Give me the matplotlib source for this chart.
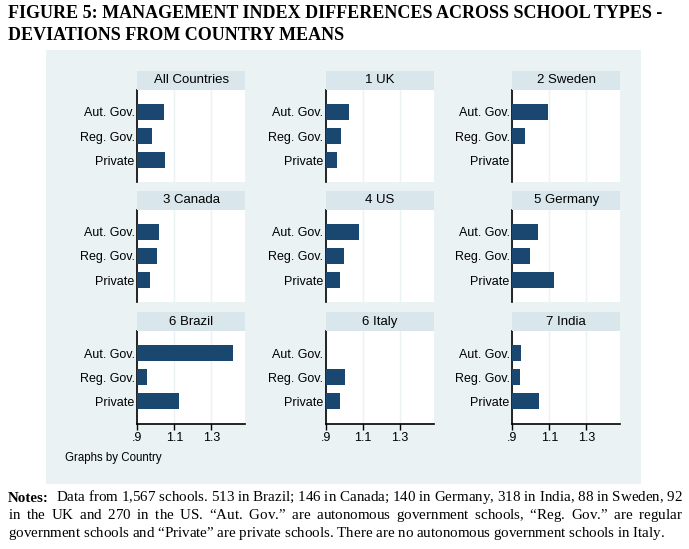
import numpy as np
import matplotlib
matplotlib.use("Agg")
import matplotlib.pyplot as plt
from matplotlib.patches import Rectangle

# ---------------- data ----------------
categories = ["Aut. Gov.", "Reg. Gov.", "Private"]
panel_titles = ["All Countries", "1 UK", "2 Sweden",
                "3 Canada", "4 US", "5 Germany",
                "6 Brazil", "6 Italy", "7 India"]
aut_gov = [1.044, 1.026, 1.093, 1.017, 1.080, 1.039, 1.417, np.nan, 0.947]
reg_gov = [0.979, 0.983, 0.969, 1.006, 0.999, 0.996, 0.952, 1.006, 0.942]
private = [1.050, 0.961, np.nan, 0.969, 0.977, 1.125, 1.125, 0.977, 1.044]
x_ticks = [0.9, 1.1, 1.3]
x_tick_labels = [".9", "1.1", "1.3"]

title_lines = ["FIGURE 5: MANAGEMENT INDEX DIFFERENCES ACROSS SCHOOL TYPES -",
               "DEVIATIONS FROM COUNTRY MEANS"]
notes_label = "Notes:"
notes_lines = [
    "Data from 1,567 schools. 513 in Brazil; 146 in Canada; 140 in Germany, 318 in India, 88 in Sweden, 92",
    "in the UK and 270 in the US. \u201cAut. Gov.\u201d are autonomous government schools, \u201cReg. Gov.\u201d are regular",
    "government schools and \u201cPrivate\u201d are private schools. There are no autonomous government schools in Italy.",
]

# ---------------- style ----------------
W, H = 689, 549
BAR = "#1A476F"
OUTER = "#EAF2F3"
STRIP = "#D9E6EB"
GRID = "#EAF2F3"
SANS = "Liberation Sans"
SERIF = "Liberation Serif"
plt.rcParams["mathtext.fontset"] = "custom"
plt.rcParams["mathtext.rm"] = "Liberation Serif"
plt.rcParams["mathtext.it"] = "Liberation Serif:italic"
plt.rcParams["mathtext.bf"] = "Liberation Serif:bold"

fig = plt.figure(figsize=(W / 100, H / 100), dpi=100)
fig.patch.set_facecolor("white")

def fx(px):
    return px / W

def fy(py):
    return 1 - py / H

# outer graph region
fig.patches.append(Rectangle((fx(46), fy(484)), fx(641) - fx(46), fy(50) - fy(484),
                             transform=fig.transFigure, facecolor=OUTER,
                             edgecolor="none", zorder=-5))

col_left = [137.3, 325.7, 512.3]
row_top = [89.7, 209.7, 331.0]
pw, ph, sh = 108.0, 92.6, 18.6
xmin, xmax = 0.9, 1.484

for i, t in enumerate(panel_titles):
    r, c = divmod(i, 3)
    L, T = col_left[c], row_top[r]
    ax = fig.add_axes([fx(L), fy(T + ph), pw / W, ph / H])
    vals = [aut_gov[i], reg_gov[i], private[i]]
    ypos = np.arange(len(categories))
    v = np.array(vals, dtype=float)
    ax.barh(ypos, v - xmin, left=xmin, height=0.67, color=BAR, zorder=3)
    ax.set_xlim(xmin, xmax)
    ax.set_ylim(2.92, -0.92)
    ax.set_facecolor("white")
    for s in ["top", "right"]:
        ax.spines[s].set_visible(False)
    ax.spines["left"].set_color("black")
    ax.spines["left"].set_linewidth(1.2)
    ax.set_yticks(ypos)
    ax.set_yticklabels(categories, fontsize=9, family=SANS)
    ax.tick_params(axis="y", length=0, pad=2)
    ax.set_xticks(x_ticks)
    ax.grid(axis="x", color=GRID, linewidth=1.0, zorder=0)
    ax.set_axisbelow(True)
    if r == 2:
        ax.spines["bottom"].set_color("black")
        ax.spines["bottom"].set_linewidth(1.2)
        ax.set_xticklabels(x_tick_labels, fontsize=9, family=SANS)
        ax.tick_params(axis="x", length=4, width=1, pad=2, color="black")
    else:
        ax.spines["bottom"].set_visible(False)
        ax.tick_params(axis="x", length=0, labelbottom=False)
    # strip
    sax = fig.add_axes([fx(L), fy(T), pw / W, sh / H])
    sax.set_facecolor(STRIP)
    sax.set_xticks([]); sax.set_yticks([])
    for s in sax.spines.values():
        s.set_visible(False)
    sax.text(0.5, 0.5, t, ha="center", va="center", fontsize=9.5, family=SANS,
             transform=sax.transAxes)

fig.text(fx(65), fy(458), "Graphs by Country", fontsize=8.3, family=SANS,
         ha="left", va="center")

# title
fig.text(fx(8), fy(14), title_lines[0], fontsize=13, family=SERIF,
         weight="bold", ha="left", va="center")
fig.text(fx(8), fy(35), title_lines[1], fontsize=13, family=SERIF,
         weight="bold", ha="left", va="center")

# notes, justified via mathtext spacing in a single text object per line
renderer = fig.canvas.get_renderer()
NFS = 10.8

def width_of(s, weight="normal"):
    t = fig.text(0, 0, s, fontsize=NFS, family=SERIF, weight=weight)
    w = t.get_window_extent(renderer).width
    t.remove()
    return w

em_px = (width_of(r"A$\hspace{10}$A") - width_of(r"A$\hspace{0}$A")) / 10.0

def justified(x0, x1, y, text):
    words = text.split(" ")
    base = r"$\hspace{0}$".join(words)
    w0 = width_of(base)
    g = (x1 - x0 - w0) / ((len(words) - 1) * em_px)
    s = (r"$\hspace{%.4f}$" % g).join(words)
    fig.text(fx(x0), fy(y), s, fontsize=NFS, family=SERIF,
             ha="left", va="baseline")

nl = fig.text(fx(8), fy(501.5), notes_label, fontsize=NFS, family=SERIF,
              weight="bold", ha="left", va="baseline")
nl_w = nl.get_window_extent(renderer).width
justified(8 + nl_w + 7, 683, 501.5, notes_lines[0])
justified(8, 683, 519.5, notes_lines[1])
justified(8, 665, 537.5, notes_lines[2])

fig.savefig("out.png", dpi=100, facecolor="white")
